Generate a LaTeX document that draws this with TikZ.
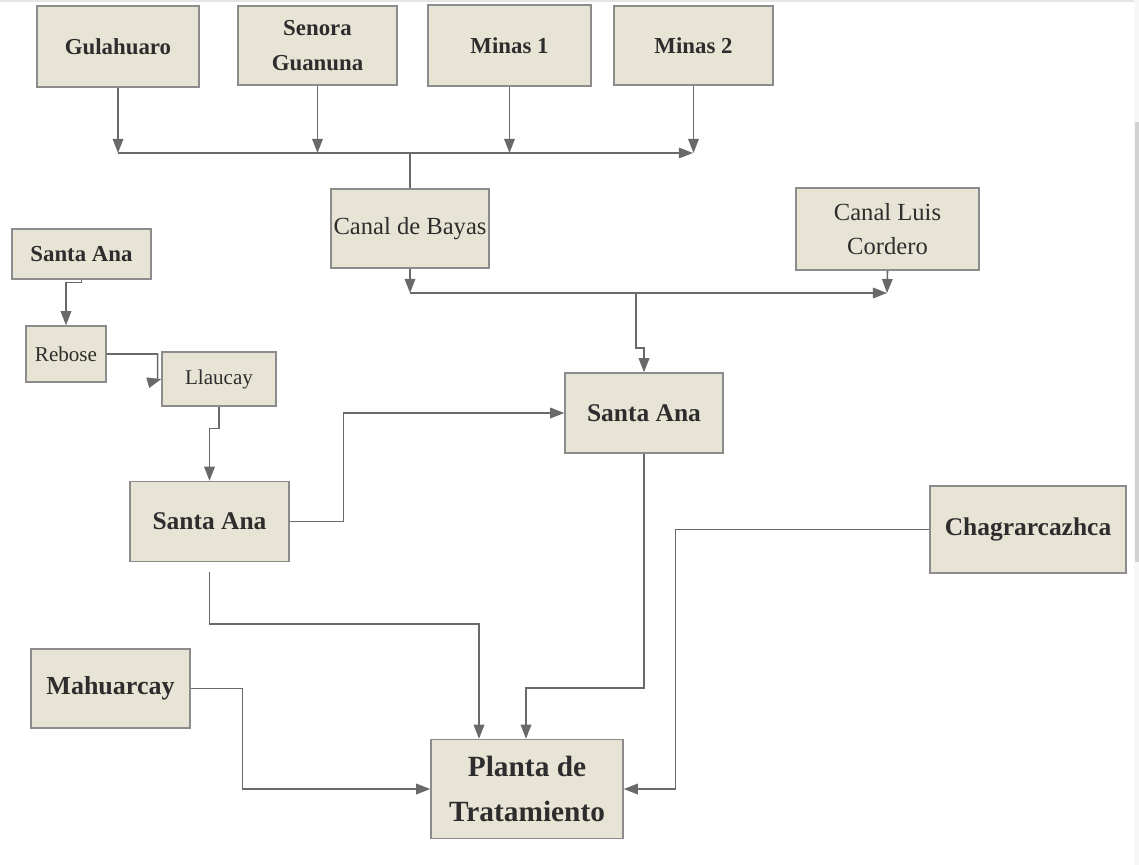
\documentclass[tikz,border=0pt]{standalone}
\usepackage{fontspec}
\setmainfont{Liberation Serif}
\usetikzlibrary{arrows.meta}
\usetikzlibrary{calc}
\definecolor{boxfill}{RGB}{232,228,213}
\definecolor{boxline}{RGB}{140,140,140}
\definecolor{flowline}{RGB}{105,105,105}
\definecolor{boxtext}{RGB}{45,45,45}

\begin{document}
\begin{tikzpicture}[x=0.02cm, y=-0.02cm,
        box/.style={draw=boxline, fill=boxfill, line width=0.8pt, inner sep=0pt, align=center,
            text=boxtext, font=\bfseries\fontsize{13}{19.8}\selectfont},
        boxsize/.style 2 args={minimum width=#1*0.02cm, minimum height=#2*0.02cm},
        flow/.style={draw=flowline, line width=0.9pt, -{Triangle[length=8pt, width=6pt]}},
        pipe/.style={draw=flowline, line width=0.9pt}]
        \useasboundingbox (0,0) rectangle (1139,865);
        \draw[gray!20, line width=1pt] (0,1) -- (1139,1);
        \fill[gray!6] (1134,0) rectangle (1139,865);
        \fill[gray!35] (1135,122) rectangle (1139,562);

        \node[box, boxsize={162}{81}] (gula) at (118,46.5) {Gulahuaro};
        \node[box, boxsize={159}{79}] (senora) at (317.5,45.5) {Senora\\Guanuna};
        \node[box, boxsize={163}{81}] (minas1) at (509.5,45.5) {Minas 1};
        \node[box, boxsize={159}{79}] (minas2) at (693.5,45.5) {Minas 2};
        \node[box, boxsize={158}{79}, font=\fontsize{14}{19.3}\selectfont] (bayas) at (410,228.5) {Canal de Bayas};
        \node[box, boxsize={183}{82}, font=\fontsize{14}{19.3}\selectfont] (cordero) at (887.5,229) {Canal Luis\\Cordero};
        \node[box, boxsize={139}{50}] (santaana1) at (81.5,254) {Santa Ana};
        \node[box, boxsize={80}{56}, font=\fontsize{12}{14}\selectfont] (rebose) at (66,354) {Rebose};
        \node[box, boxsize={114}{54}, font=\fontsize{12}{14}\selectfont] (llaucay) at (219,379) {Llaucay};
        \node[box, boxsize={159}{80}, font=\bfseries\fontsize{14.5}{17}\selectfont] (santaana2) at (209.5,521.5) {Santa Ana};
        \node[box, boxsize={158}{80}, font=\bfseries\fontsize{14.5}{17}\selectfont] (santaana3) at (644,413) {Santa Ana};
        \node[box, boxsize={159}{79}, font=\bfseries\fontsize{14.8}{17}\selectfont] (mahuarcay) at (110.5,688.5) {Mahuarcay};
        \node[box, boxsize={196}{87}, font=\bfseries\fontsize{14.5}{17}\selectfont] (chagra) at (1028,529.5) {Chagrarcazhca};
        \node[box, boxsize={192}{99}, font=\bfseries\fontsize{16.7}{25.5}\selectfont] (planta) at (527,789) {Planta de\\Tratamiento};

        \coordinate (bus1) at (118,153);
        \coordinate (bus2) at (693,153);
        \foreach \n in {gula,senora,minas1,minas2}
            \draw[flow] (\n.south) -- (\n.south |- bus1);
        \draw[flow] (bus1) -- (bus2);
        \draw[pipe] (bayas.north) -- (bayas.north |- bus1);

        \coordinate (bus3) at (410,293);
        \coordinate (bus4) at (887,293);
        \coordinate (bus5) at (636,293);
        \draw[flow] (bayas.south) -- (bus3);
        \draw[flow] (cordero.south) -- (bus4);
        \draw[flow] (bus3) -- (bus4);
        \draw[flow] (bus5) -- ++(0,55) -| (santaana3.north);

        \draw[flow] (santaana1.south) -- ++(0,3) -| (rebose.north);
        \draw[flow] (rebose.east) -| ++(51,26) -- (llaucay.west);
        \draw[flow] (llaucay.south) -- ++(0,22) -| (santaana2.north);
        \draw[flow] (santaana2.east) -- ++(54,0) |- (santaana3.west);

        \draw[flow] (santaana2.south) ++(0,10) -- ++(0,52) -| ($(planta.north)+(-48,0)$);
        \draw[flow] (santaana3.south) -- ++(0,234) -| ($(planta.north)+(-1,0)$);
        \draw[flow] (mahuarcay.east) -- ++(52,0) |- (planta.west);
        \draw[flow] (chagra.west) -- ++(-254,0) |- (planta.east);
    \end{tikzpicture}
\end{document}
